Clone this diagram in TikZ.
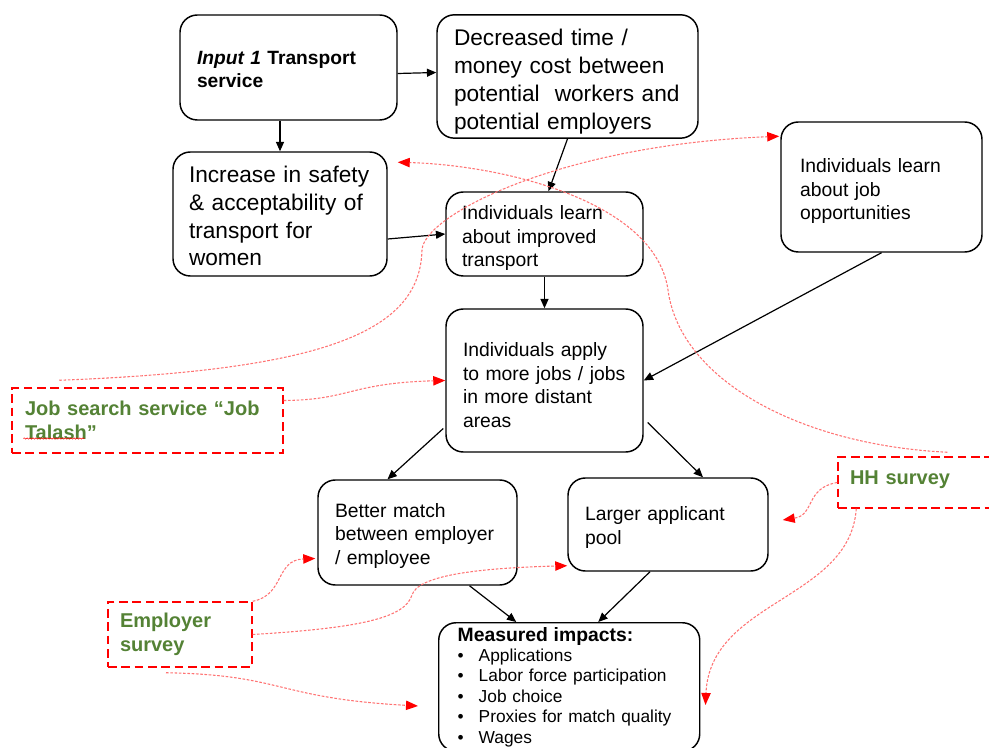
\documentclass[tikz,border=0pt]{standalone}
\usepackage{fontspec}
\setmainfont{Liberation Sans}
\usetikzlibrary{arrows.meta,calc,decorations.pathmorphing}
\definecolor{survgreen}{HTML}{548235}
\newcommand{\impitem}[1]{\\\makebox[15.75pt][l]{\textbullet}#1}
\begin{document}
\begin{tikzpicture}[x=0.75pt,y=-0.75pt,
  box/.style={draw,line width=1.1pt,rounded corners=13pt,align=left},
  bigtext/.style={font=\fontsize{17}{20.8}\selectfont},
  midtext/.style={font=\fontsize{14.5}{17.6}\selectfont},
  textdrop/.style={execute at begin node={\rule{0pt}{\dimexpr0.73em+#1\relax}}},
  textlift/.style={execute at end node={\rule[-\dimexpr0.21em+#1\relax]{0pt}{0pt}}},
  svy/.style={draw=red,line width=1.1pt,dash pattern=on 6.5pt off 3.5pt,align=left,
    text=survgreen,font=\fontsize{15}{18}\selectfont\bfseries},
  flow/.style={-{Triangle[length=7pt,width=6pt]},line width=0.9pt},
  link/.style={red!55,line width=0.8pt,dash pattern=on 2pt off 1.2pt,
    -{Triangle[length=9pt,width=7pt,color=red]}}]
\useasboundingbox (0,0) rectangle (989,748);
\node[box,font=\fontsize{14.4}{17.25}\selectfont\bfseries,minimum width=162.75pt,minimum height=78.75pt,
  inner xsep=12.75pt,text width=137.25pt,textdrop=3pt] (input) at (288.5,67.5) {\textit{Input 1} Transport\\service};
\node[box,bigtext,minimum width=195.75pt,minimum height=92.25pt,inner xsep=12.75pt,text width=170.25pt,textdrop=7.5pt]
  (cost) at (567.5,76.5) {Decreased time /\\money cost between\\potential\ \ workers and\\potential employers};
\node[box,bigtext,minimum width=160.5pt,minimum height=93pt,inner xsep=12pt,text width=136.5pt,textdrop=3pt]
  (safety) at (280,214) {Increase in safety\\\& acceptability of\\transport for\\women};
\node[box,midtext,minimum width=147.75pt,minimum height=63pt,inner xsep=12pt,text width=123.75pt,textdrop=6pt]
  (learnT) at (544.5,234) {Individuals learn\\about improved\\transport};
\node[box,midtext,minimum width=150.75pt,minimum height=97.5pt,inner xsep=14.25pt,text width=122.25pt,textdrop=6pt]
  (learnJ) at (881.5,187) {Individuals learn\\about job\\opportunities};
\node[box,midtext,minimum width=147.75pt,minimum height=107.25pt,inner xsep=12.75pt,text width=122.25pt,textdrop=6.75pt]
  (apply) at (544.5,380.5) {Individuals apply\\to more jobs / jobs\\in more distant\\areas};
\node[box,midtext,minimum width=149.25pt,minimum height=78.75pt,inner xsep=12.75pt,text width=123.75pt,textdrop=4.5pt]
  (match) at (417.5,532.5) {Better match\\between employer\\/ employee};
\node[box,midtext,minimum width=150pt,minimum height=69.75pt,inner xsep=12.75pt,text width=124.5pt,textdrop=4.5pt]
  (pool) at (668,524.5) {Larger applicant\\pool};
\node[box,anchor=north west,font=\fontsize{13}{15.3}\selectfont,minimum width=195.75pt,inner xsep=14.25pt,
  text width=167.25pt] (impacts) at (438,622) {{\fontsize{14.5}{15.3}\selectfont\bfseries Measured impacts:}%
  \impitem{Applications}\impitem{Labor force participation}\impitem{Job choice}%
  \impitem{Proxies for match quality}\impitem{Wages}};
\node[svy,minimum width=203.25pt,minimum height=48.75pt,inner xsep=9.75pt,text width=183.75pt]
  (jobsearch) at (147.5,420.5) {Job search service “Job\\Talash”};
\node[svy,minimum width=129pt,minimum height=38.25pt,inner xsep=9pt,text width=111pt,textlift=4.5pt]
  (hh) at (924,482.5) {HH survey};
\node[svy,minimum width=108pt,minimum height=48.75pt,inner xsep=9pt,text width=90pt]
  (employer) at (180,634.5) {Employer\\survey};
\draw[red,line width=0.4pt,decorate,decoration={snake,amplitude=0.5pt,segment length=2.2pt}]
  ($(jobsearch.west)+(12,18)$) -- ++(61,0);
\draw[flow] ($(input.east)+(0,6)$) -- ($(cost.west)+(0,-4)$);
\draw[flow] (input.south -| safety.north) -- (safety.north);
\draw[flow] (cost.south) -- ($(learnT.north)+(4,0)$);
\draw[flow] ($(safety.east)+(0,25)$) -- (learnT.west);
\draw[flow] (learnT.south) -- (apply.north);
\draw[flow] (learnJ.south) -- (apply.east);
\draw[flow] ($(apply.west)+(-2,48)$) -- ($(match.north)+(-30,0)$);
\draw[flow] ($(apply.east)+(4,42)$) -- ($(pool.north)+(35,0)$);
\draw[flow] ($(match.south)+(52,0)$) -- ($(impacts.north)+(-53,0)$);
\draw[flow] ($(pool.south)+(-18,0)$) -- ($(impacts.north)+(29,0)$);
\coordinate (aStart) at ($(jobsearch.north west)+(48,-7)$);
\coordinate (aEnd) at ($(learnJ.north west)+(-1,15)$);
\coordinate (bStart) at ($(hh.north west)+(110,-4)$);
\coordinate (bEnd) at ($(safety.north east)+(10,11)$);
\coordinate (dEnd) at ($(pool.east)+(14,-4.5)$);
\coordinate (eEnd) at ($(impacts.north east)+(5,83)$);
\coordinate (hStart) at ($(employer.south)+(-14,5)$);
\coordinate (hEnd) at ($(impacts.north west)+(-20,84)$);
\draw[link] (aStart) .. controls (330,370) and (420,330) .. (422,250) .. controls (424,215) and (560,145) .. (aEnd);
\draw[link] (bStart) .. controls (800,445) and (680,380) .. (668,290) .. controls (655,200) and (500,165) .. (bEnd);
\draw[link] ($(jobsearch.east)+(0,-20)$) .. controls (350,400) and (350,383) .. (apply.west);
\draw[link] (hh.west) .. controls (805,488) and (815,515) .. (dEnd);
\draw[link] ($(hh.south west)+(19,0)$) .. controls (850,600) and (710,600) .. (eEnd);
\draw[link] (employer.north east) .. controls (285,595) and (275,560) .. ($(match.west)+(-2,26)$);
\draw[link] (employer.east) .. controls (360,628) and (405,618) .. (412,595) .. controls (418,575) and (480,568) .. ($(pool.south west)+(0,-6)$);
\draw[link] (hStart) .. controls (285,675) and (275,698) .. (hEnd);
\end{tikzpicture}
\end{document}
